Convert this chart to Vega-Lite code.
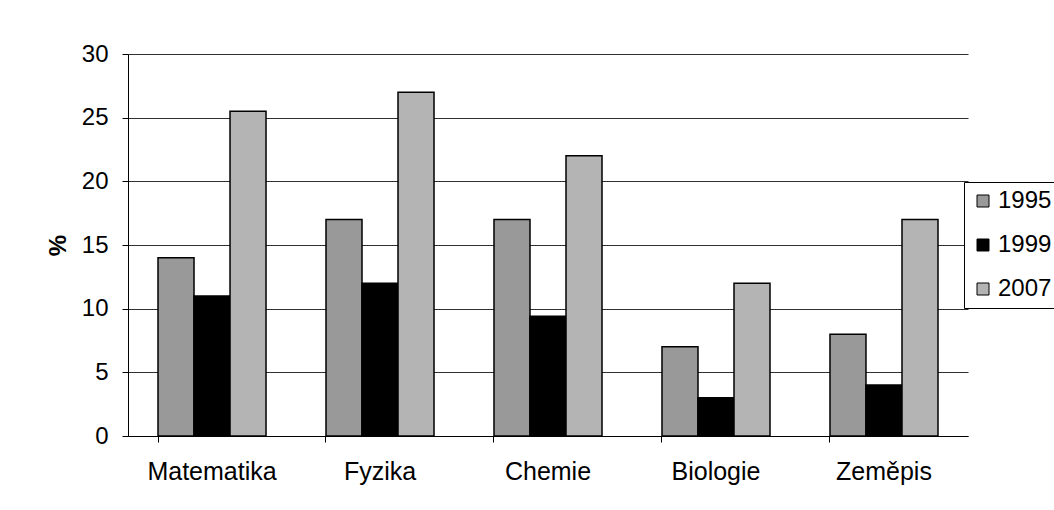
{
  "$schema": "https://vega.github.io/schema/vega-lite/v6.json",
  "autosize": "none",
  "width": 840,
  "height": 382,
  "padding": {"left": 128, "top": 54, "right": 86, "bottom": 74},
  "background": "white",
  "config": {
    "font": "Liberation Sans",
    "view": {"stroke": null}
  },
  "data": {
    "values": [
      {"subject": "Matematika", "year": "1995", "value": 14},
      {"subject": "Matematika", "year": "1999", "value": 11},
      {"subject": "Matematika", "year": "2007", "value": 25.5},
      {"subject": "Fyzika", "year": "1995", "value": 17},
      {"subject": "Fyzika", "year": "1999", "value": 12},
      {"subject": "Fyzika", "year": "2007", "value": 27},
      {"subject": "Chemie", "year": "1995", "value": 17},
      {"subject": "Chemie", "year": "1999", "value": 9.4},
      {"subject": "Chemie", "year": "2007", "value": 22},
      {"subject": "Biologie", "year": "1995", "value": 7},
      {"subject": "Biologie", "year": "1999", "value": 3},
      {"subject": "Biologie", "year": "2007", "value": 12},
      {"subject": "Zeměpis", "year": "1995", "value": 8},
      {"subject": "Zeměpis", "year": "1999", "value": 4},
      {"subject": "Zeměpis", "year": "2007", "value": 17}
    ]
  },
  "mark": {"type": "bar", "stroke": "black", "strokeWidth": 1.5},
  "encoding": {
    "x": {
      "field": "subject",
      "type": "nominal",
      "sort": ["Matematika", "Fyzika", "Chemie", "Biologie", "Zeměpis"],
      "scale": {"paddingInner": 0.357, "paddingOuter": 0.1786},
      "axis": {
        "title": null,
        "labelAngle": 0,
        "labelFontSize": 25,
        "labelColor": "black",
        "labelPadding": 17,
        "bandPosition": 0,
        "tickColor": "black",
        "tickSize": 6,
        "domainColor": "black",
        "domainWidth": 1,
        "grid": false
      }
    },
    "xOffset": {"field": "year", "type": "nominal", "scale": {"paddingInner": 0, "paddingOuter": 0}},
    "y": {
      "field": "value",
      "type": "quantitative",
      "scale": {"domain": [0, 30], "nice": false},
      "axis": {
        "title": "%",
        "titleFontSize": 24,
        "titleFontWeight": "bold",
        "titleColor": "black",
        "titlePadding": 11,
        "values": [0, 5, 10, 15, 20, 25, 30],
        "labelFontSize": 24,
        "labelColor": "black",
        "labelPadding": 14,
        "tickColor": "black",
        "tickSize": 6,
        "domainColor": "black",
        "grid": true,
        "gridColor": "#303030",
        "gridWidth": 1
      }
    },
    "fill": {
      "field": "year",
      "type": "nominal",
      "scale": {"domain": ["1995", "1999", "2007"], "range": ["#999999", "#000000", "#b4b4b4"]},
      "legend": {
        "title": null,
        "orient": "none",
        "legendX": 836,
        "legendY": 128,
        "strokeColor": "black",
        "padding": 7,
        "symbolType": "square",
        "symbolSize": 144,
        "symbolStrokeColor": "black",
        "symbolStrokeWidth": 1,
        "labelFontSize": 24,
        "labelColor": "black",
        "labelOffset": 3,
        "rowPadding": 20,
        "fillColor": "white"
      }
    }
  }
}
